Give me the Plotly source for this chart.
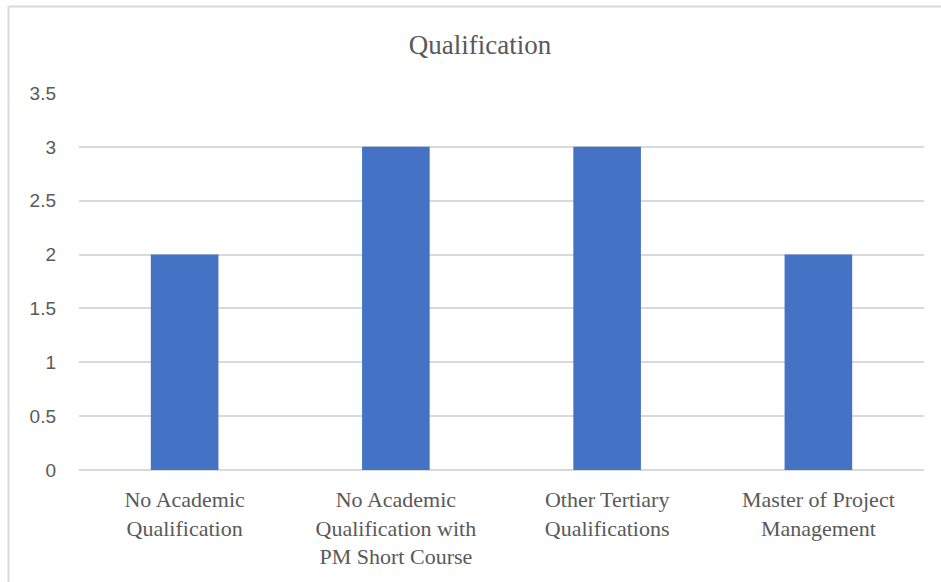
import plotly.graph_objects as go

categories = [
    "No Academic<br>Qualification",
    "No Academic<br>Qualification with<br>PM Short Course",
    "Other Tertiary<br>Qualifications",
    "Master of Project<br>Management",
]
values = [2, 3, 3, 2]
y_ticks = [0, 0.5, 1, 1.5, 2, 2.5, 3, 3.5]
y_tick_text = ["0", "0.5", "1", "1.5", "2", "2.5", "3", "3.5"]

W, H = 941, 582
L, R, T, B = 79, 17, 93, 112
pw, ph = W - L - R, H - T - B

fig = go.Figure(
    go.Bar(
        x=categories,
        y=values,
        marker=dict(color="#4472C4", line=dict(width=0)),
        width=0.32,
    )
)

# chart-area border (left and top edges visible)
bx = (8.5 - L) / pw
by = (H - B - 6.5) / ph
grey = "#D9D9D9"
fig.add_shape(type="line", xref="paper", yref="paper", x0=bx, x1=bx, y0=-1, y1=by,
              line=dict(color=grey, width=2))
fig.add_shape(type="line", xref="paper", yref="paper", x0=bx, x1=2, y0=by, y1=by,
              line=dict(color=grey, width=2))

fig.update_layout(
    width=W,
    height=H,
    margin=dict(l=L, r=R, t=T, b=B),
    paper_bgcolor="white",
    plot_bgcolor="white",
    showlegend=False,
    title=dict(
        text="Qualification",
        x=480 / W,
        xanchor="center",
        xref="container",
        y=1 - 45 / H,
        yanchor="middle",
        yref="container",
        font=dict(family="Liberation Serif", size=27, color="#595959"),
    ),
    xaxis=dict(
        showgrid=False,
        showline=False,
        zeroline=False,
        ticks="",
        ticklabelstandoff=14,
        tickfont=dict(family="Liberation Serif", size=22, color="#595959"),
    ),
    yaxis=dict(
        range=[0, 3.5],
        tickvals=y_ticks,
        ticktext=y_tick_text,
        showgrid=True,
        gridcolor=grey,
        gridwidth=1.5,
        zeroline=True,
        zerolinecolor=grey,
        zerolinewidth=1.5,
        showline=False,
        ticks="",
        ticklabelstandoff=22,
        tickfont=dict(family="Liberation Sans", size=19, color="#595959"),
    ),
)

fig.write_html("out.html")
